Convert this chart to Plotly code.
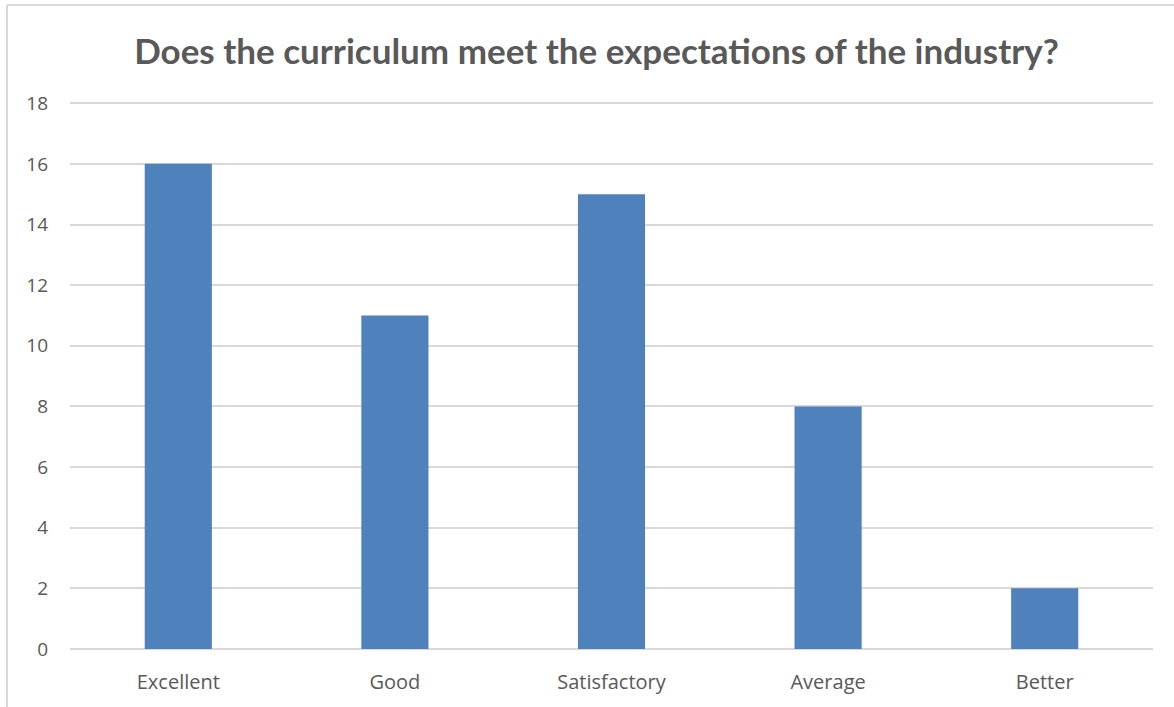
import plotly.graph_objects as go

categories = ["Excellent", "Good", "Satisfactory", "Average", "Better"]
values = [16, 11, 15, 8, 2]
y_ticks = [0, 2, 4, 6, 8, 10, 12, 14, 16, 18]

W, H = 1174, 707
ml, mr, mt, mb = 70, 21, 102, 58
pw, ph = W - ml - mr, H - mt - mb

def px(x):
    return (x - ml) / pw

def py(y):
    return (H - mb - y) / ph

fig = go.Figure(go.Bar(
    x=categories, y=values, width=0.31,
    marker=dict(color="#4F81BD", line=dict(width=0)),
))

fig.update_layout(
    width=W, height=H,
    margin=dict(l=ml, r=mr, t=mt, b=mb),
    paper_bgcolor="white", plot_bgcolor="white",
    showlegend=False,
    font=dict(family="'Open Sans', Lato, sans-serif", color="#595959", size=19),
    title=dict(
        text="<b>Does the curriculum meet the expectations of the industry?</b>",
        x=596.5 / W, xanchor="center", xref="container",
        y=1 - 52 / H, yref="container", yanchor="middle",
        font=dict(family="Lato, sans-serif", size=35, color="#595959"),
    ),
    xaxis=dict(showgrid=False, showline=False, ticks="", tickfont=dict(size=20)),
    yaxis=dict(range=[0, 18.04], tickvals=y_ticks, showgrid=True, gridcolor="#d9d9d9",
               gridwidth=1.5, zeroline=True, zerolinecolor="#d9d9d9", zerolinewidth=1.5,
               showline=False, ticks="", ticklen=0, tickfont=dict(size=19)),
    shapes=[
        dict(type="line", xref="paper", yref="paper", x0=px(7), x1=px(1180), y0=py(5), y1=py(5),
             line=dict(color="#d9d9d9", width=2)),
        dict(type="line", xref="paper", yref="paper", x0=px(7), x1=px(7), y0=py(5), y1=py(720),
             line=dict(color="#d9d9d9", width=2)),
    ],
)
fig.update_yaxes(ticklabelstandoff=21)
fig.update_xaxes(ticklabelstandoff=19)

fig.write_html("out.html", config={"displayModeBar": False},
               post_script="document.body.style.margin='0';")
